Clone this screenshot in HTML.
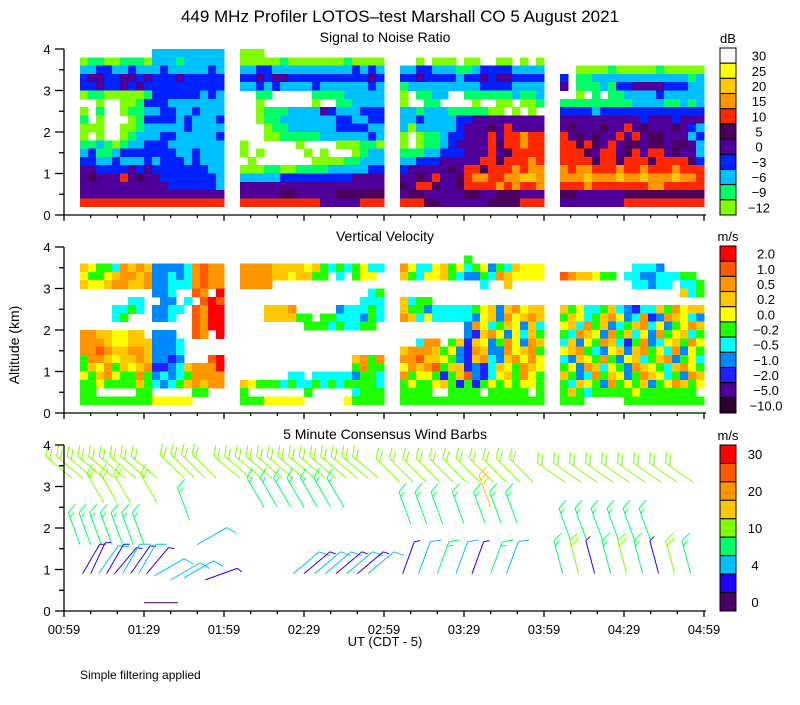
<!DOCTYPE html>
<html><head><meta charset="utf-8"><style>
body{margin:0;background:#fff}
svg text{font-family:"Liberation Sans",sans-serif;fill:#000}
</style></head><body>
<svg id="chart" width="800" height="700" viewBox="0 0 800 700" xmlns="http://www.w3.org/2000/svg">
<rect width="800" height="700" fill="#fff"/>
<text x="400" y="22" text-anchor="middle" font-size="17">449 MHz Profiler LOTOS–test Marshall CO  5 August 2021</text>
<text x="385" y="42" text-anchor="middle" font-size="14">Signal to Noise Ratio</text>
<text x="385" y="241" text-anchor="middle" font-size="14">Vertical Velocity</text>
<text x="385" y="439" text-anchor="middle" font-size="14">5 Minute Consensus Wind Barbs</text>
<text x="0" y="0" transform="translate(19,345) rotate(-90)" text-anchor="middle" font-size="14">Altitude (km)</text>
<text x="385" y="646" text-anchor="middle" font-size="13">UT  (CDT - 5)</text>
<text x="80" y="679" font-size="12">Simple filtering applied</text>
<g id="layers"></g>
</svg>
<script>
const panelTops=[49,247,445];
const timeTicks=["00:59","01:29","01:59","02:29","02:59","03:29","03:59","04:29","04:59"];
const altTicks=[0,1,2,3,4];
const snrLabels=["30","25","20","15","10","5","0","−3","−6","−9","−12"];
const snrColors=["#ffffff","#ffff00","#ffc800","#ff9600","#ff2800","#4a005c","#50009a","#0022ff","#00bfff","#00ff66","#80ff00"];
const vvLabels=["2.0","1.0","0.5","0.2","0.0","−0.2","−0.5","−1.0","−2.0","−5.0","−10.0"];
const vvColors=["#ff0000","#ff5a00","#ff9600","#ffc800","#ffff00","#20ff00","#00ffff","#0088ff","#2020ff","#500096","#300030"];
const windLabels=["30","","20","","10","","4","","0"];
const windColors=["#ff0000","#ff5a00","#ff9600","#ffc800","#80ff00","#00ff66","#00bfff","#2000ff","#4a0068"];
const snrMap={"0":"#80ff00","1":"#00ff66","2":"#00bfff","3":"#0022ff","4":"#50009a","5":"#4a005c","6":"#ff2800","7":"#ff9600","8":"#ffc800","9":"#ffff00"};
const vvMap={r:"#ff0000",o:"#ff5a00",c:"#ff9600",d:"#ffc800",y:"#ffff00",g:"#20ff00",t:"#00ffff",h:"#0088ff",b:"#2020ff",p:"#500096",k:"#300030"};
const segStartCol=[2,22,42,62];
const snrSeg1=[".........222222222","011001110222122222","223322322232222232","344334434333433333","334334343333333333","011000001333333232","..0..0013332222222","0.1..0112233223222","1.0...013333232223","000..0012222232222","0.0..0122233222223","112101223332222222","231123333333223222","332232223233323222","443333434333333322","454446454433333332","444444444443333332","444444444444444444","666666666666666666"];
const snrSeg2=["000...............","000001000000010000","223322222222223232","334344333333333343","223232222322222232","..11.....111122222","..0......0..112222","..0111222243222333","..0112222222332233","...011222222333322","...001111122222232","0......0....000110","0.0.....0.0...0122",".0.......000011222","000110011112222233","222223333333334444","444444444444444444","444445544444555555","666666666644444666"];
const snrSeg3=["..................","..0.000.00..00.0.0","223322211233332222","334333323343443333","122222222233332222","0.1122..1111112112","0..11....0..00.001","2212221111100.0.0.","223222233444444444","202222234445464444","0.0112334446466766","0.0112344446566766","111223334446456666","223334444466566676","344444546656667677","445464456776677887","546654456666767667","455444445544555444","666554444445555666"];
const snrSeg4=["..................","..................","..0000100000100000","3.1122222222222212","4.1112133444433322","..0.1.112222322222","111111111222211212","333323333333333333","444444444434443444","454445446454445432","645454464645544423","665654645545545542","666546645646645442","666656656665666653","767766676676667666","777877787787778776","666766666667766666","554444445555555555","444444446666666666"];
const vvSeg1=["..................","..................","dyggtcdcdhhhhtcocc","yggydccdchhthtcocc","dyydccddchhtttcocc",".........hht..oc.r","......tt..hh.t.oro","....ttgt.hhtt.ocrr","....tg...hht..ocrr","..............ocrr","ccddyydd.hhh..oc.r","cccdyydddhhht.....","ccocddccdhhht.....","gccdyddcdhhbh...or","gdycgdydcbbhtdcccr","ygdcyggcghthtgcccc","ggyggggdgthtgdcdcc","gg.....gg.....gg..","gggggggggyyyyy...."];
const vvSeg2=["..................","..................","ccccddddydgtgtgytt","ccccddyddgg.t.gyy.","cccc..............","................tg","...............ttt","...dddc.....htttgt","...ddddgg.ggttthgt","........gggtgttgg.","..................","..................","..................","..............dcgc","..............gcgg","......tt.ttttthggt","dygggtgttgtgtggggt","g.......g.....tggg","gggyyyyy.....ygggg"];
const vvSeg3=["..................","........g.........","cyttydgytgyhgtdyyy","dgtyydgthhgtcdyyyy","..........t..d....","..................","dtgg..............","dgghtttttgydhdcydd","cdtyttttthydhcydcd","........hcytgdyhdt","........hbdcyhytdgh","..tcc.gdbdyhgcyhcd","dcccdgyhbcdhhcydcg","ccoddyghbdcthdcycy","ycdcogddbhbtdygcdy","cgyygbgdohbtydgcyg","gyggydgbgbgygygyyg","gggg..gggg.ggggg.g","gggggggggggggggggg"];
const vvSeg4=["..................","..................",".........ttth.....","ocddygg.tthhtttgg.",".........tthtt.ttg","...............dtg","..................","dgyttgdthbttdgcydd","gdytgdcyhtcbhcdyth","ydtcgdhtgdctyhgycd","gtcdyhcgdtyhcgydtg","tdhygcdtbgchtydgcy","ydcgthydhdcgytchyg","thdygcghydtgdchgyt","gyhcdtyghcdygtdcyg","dghtcgdyhgcdytghcd","gtdyghcgygdhgycdgy","gdgtgggggyggggggg.","ggg.....gggggggggg"];
const barbT=[3,7,11,15,19,23,27,31,35, 45,49,53,57, 15,20,25,35, 6,10,14,18,22,26,30, 47,50, 7,10,13,16,19,22,25,28,31, 34,40,45,53,30, 66,70,74,78,82,86,90,94,98,102,106,110,114,118, 75,80,85,90,95,100,105, 86,90,94,98,102,106,110,114, 126,131,136,141,146,151,156,161,166,171,176, 130,136,142,150,158,164,170, 127,133,140,147,153,160,166, 160, 188,194,200,206,212,218,224,230,236, 190,196,202,208,214,220, 187,193,199,205,211,217,223,229,235];
const barbA=[3.2,3.2,3.2,3.2,3.2,3.2,3.2,3.2,3.2, 3.2,3.2,3.2,3.2, 2.6,2.6,2.6,2.6, 1.6,1.6,1.6,1.6,1.6,1.6,1.6, 2.2,1.6, 0.9,0.9,0.9,0.9,0.9,0.9,0.9,0.9,0.9, 0.85,0.75,0.8,0.75,0.2, 3.2,3.2,3.2,3.2,3.2,3.2,3.2,3.2,3.2,3.2,3.2,3.2,3.2,3.2, 2.5,2.5,2.5,2.5,2.5,2.5,2.5, 0.9,0.9,0.9,0.9,0.9,0.9,0.9,0.9, 3.1,3.1,3.1,3.1,3.1,3.1,3.1,3.1,3.1,3.1,3.1, 2.1,2.1,2.1,2.1,2.1,2.1,2.1, 0.9,0.9,0.9,0.9,0.9,0.9,0.9, 2.5, 3.1,3.1,3.1,3.1,3.1,3.1,3.1,3.1,3.1, 1.7,1.7,1.7,1.7,1.7,1.7, 0.9,0.9,0.9,0.9,0.9,0.9,0.9,0.9,0.9];
const barbS=[12,12,12,12,12,12,12,12,12, 11,11,11,11, 11,11,11,11, 8,8,8,8,8,8,8, 8,5, 3,3,5,3,3,5,3,5,3, 5,6,5,3,1, 12,12,12,12,12,12,12,12,12,12,12,12,12,12, 9,9,9,9,9,9,9, 5,3,5,5,3,5,3,5, 11,11,11,11,11,11,11,11,11,11,11, 9,9,9,9,9,9,9, 3,5,8,5,3,8,5, 17, 11,11,11,11,11,11,11,11,11, 9,9,9,9,9,9, 8,11,3,8,11,8,3,11,8];
const barbD=[310,310,310,310,310,310,310,310,310, 315,315,315,315, 330,330,330,330, 340,340,340,340,340,340,340, 340,60, 30,25,35,30,40,30,35,30,40, 60,60,60,70,90, 310,310,310,310,310,310,310,310,310,310,310,310,310,310, 330,330,330,330,330,330,330, 50,50,50,50,50,50,50,50, 315,315,315,315,315,315,315,315,315,315,315, 340,340,340,340,340,340,340, 20,20,20,20,20,20,20, 340, 305,305,305,305,305,305,305,305,305, 340,340,340,340,340,340, 345,345,345,345,345,345,345,345,345];

const NS="http://www.w3.org/2000/svg";
const layers=document.getElementById('layers');
function xScale(min){return 64+min*80/30;}
function yScale(p,alt){return panelTops[p]+(4-alt)*41.5;}
function mk(tag,attrs,parent){const e=document.createElementNS(NS,tag);for(const k in attrs)e.setAttribute(k,attrs[k]);(parent||layers).appendChild(e);return e;}

function drawGrid(p,segs,cmap,name){
  const g=mk('g',{'shape-rendering':'crispEdges'});
  
  
  segs.forEach((rows,s)=>{
    rows.forEach((row,i)=>{
      const alt=3.9-0.2*i;
      const y0=yScale(p,alt+0.1), y1=yScale(p,alt-0.1);
      for(let k=0;k<18;k++){
        const ch=row[k];
        if(!ch||ch==='.')continue;
        const col=segStartCol[s]+k;
        const x0=xScale(col*3), x1=xScale(col*3+3);
        const r=mk('rect',{x:x0,y:y0,width:x1-x0+0.5,height:y1-y0+0.5,fill:cmap[ch]},g);
        
        
      }
    });
  });
}
drawGrid(0,[snrSeg1,snrSeg2,snrSeg3,snrSeg4],snrMap,'snr-heatmap');
drawGrid(1,[vvSeg1,vvSeg2,vvSeg3,vvSeg4],vvMap,'vv-heatmap');

function windColor(s){
  const edges=[2,4,7,10,15,20,25,30];
  let i=0;while(i<edges.length&&s>=edges[i])i++;
  return windColors[8-i];
}
const bg=mk('g',{});


for(let i=0;i<barbT.length;i++){
  const x=xScale(barbT[i]), y=yScale(2,barbA[i]);
  const d=barbD[i]*Math.PI/180, L=34;
  const ux=Math.sin(d), uy=-Math.cos(d);
  const ex=x+ux*L, ey=y+uy*L;
  const col=windColor(barbS[i]);
  const bar=mk('g',{stroke:col,'stroke-width':1,fill:'none'},bg);
  
  
  mk('line',{x1:x,y1:y,x2:ex,y2:ey},bar);
  const fa=d+1.05;
  const fx=Math.sin(fa), fy=-Math.cos(fa);
  let full=Math.floor(barbS[i]/5), half=(barbS[i]%5)>=2.5?1:0;
  let pos=0;
  for(let f=0;f<full;f++){
    const bx=ex-ux*pos*5, by=ey-uy*pos*5;
    mk('line',{x1:bx,y1:by,x2:bx+fx*11,y2:by+fy*11},bar);pos++;
  }
  if(half){const bx=ex-ux*pos*5, by=ey-uy*pos*5;mk('line',{x1:bx,y1:by,x2:bx+fx*6,y2:by+fy*6},bar);}
}

for(let p=0;p<3;p++){
  const top=panelTops[p], bot=yScale(p,0);
  const ax=mk('g',{stroke:'#000','stroke-width':1.3,fill:'none'});
  
  
  mk('line',{x1:64,y1:top,x2:64,y2:bot},ax);
  mk('line',{x1:64,y1:bot,x2:706,y2:bot},ax);
  for(let a=0;a<=4;a+=0.5){const y=yScale(p,a);mk('line',{x1:Number.isInteger(a)?55:59,y1:y,x2:64,y2:y},ax);}
  for(let m=0;m<=240;m+=10){const x=xScale(m);mk('line',{x1:x,y1:bot,x2:x,y2:bot+(m%30===0?6:3)},ax);}
  altTicks.forEach(a=>{
    const t=mk('text',{x:47,y:yScale(p,a)+5,'text-anchor':'middle','font-size':13});
    t.textContent=a;
    
    
  });
}
timeTicks.forEach((lab,i)=>{
  const t=mk('text',{x:xScale(i*30),y:634,'text-anchor':'middle','font-size':13});
  t.textContent=lab;
  
  
});

function colorbar(top,bottom,colors,labels,unit,lx,name){
  const g=mk('g',{});
  
  
  const h=(bottom-top)/colors.length;
  colors.forEach((c,i)=>{
    mk('rect',{x:720,y:top+i*h,width:16,height:h,fill:c,stroke:'#000','stroke-width':1},g);
    if(labels[i]){const t=mk('text',{x:lx,y:top+i*h+h/2+5,'text-anchor':'middle','font-size':13},g);t.textContent=labels[i];}
  });
  const u=mk('text',{x:728,y:top-5,'text-anchor':'middle','font-size':13},g);u.textContent=unit;
}
colorbar(48,215,snrColors,snrLabels,'dB',759,'snr-colorbar');
colorbar(246,413,vvColors,vvLabels,'m/s',766,'vv-colorbar');
colorbar(445,611,windColors,windLabels,'m/s',755,'wind-colorbar');
</script>
</body></html>
